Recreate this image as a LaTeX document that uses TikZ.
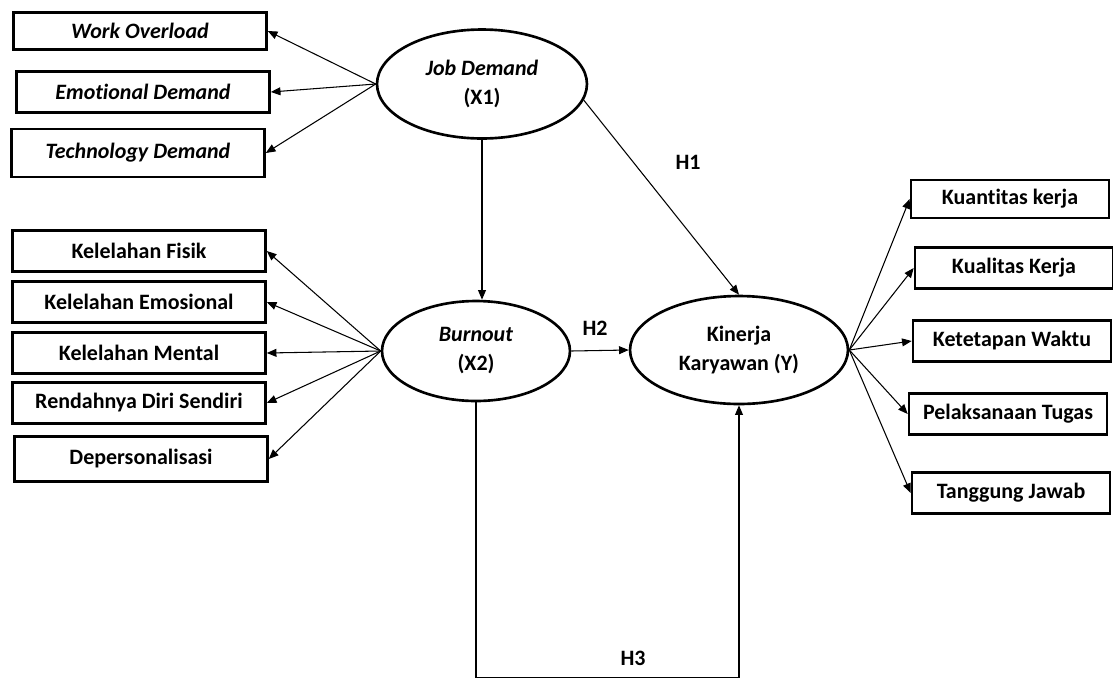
\documentclass[tikz,border=0pt]{standalone}
\usepackage{fontspec}
\setmainfont[Ligatures=NoCommon]{Carlito}
\usetikzlibrary{shapes.geometric,arrows.meta}
\begin{document}
\begin{tikzpicture}[x=0.02cm, y=-0.02cm, font=\fontsize{12.5}{14}\selectfont\bfseries,
	indikator/.style={draw, line width=1.5pt, minimum height=0.82cm, inner sep=2pt},
	kiri/.style={indikator, minimum width=5.06cm},
	kanan/.style={indikator, minimum width=3.96cm},
	variabel/.style={draw, ellipse, line width=1.5pt, align=center, inner sep=0pt, font=\fontsize{12.5}{16.5}\selectfont\bfseries},
	panah/.style={-{Triangle[length=5.5pt, width=4.5pt]}, line width=0.6pt}]
	\useasboundingbox (0,0) rectangle (1113,677);
	% variabel laten
	\node[variabel, minimum width=4.2cm, minimum height=2.18cm] (jd) at (482,84) {\textit{Job Demand}\\(X1)};
	\node[variabel, minimum width=3.76cm, minimum height=2cm] (bo) at (476,351) {\textit{Burnout}\\(X2)};
	\node[variabel, minimum width=4.36cm, minimum height=2.16cm] (ky) at (739,350) {Kinerja\\Karyawan (Y)};
	% indikator X1
	\node[kiri, minimum height=0.74cm] (wo) at (140,31) {\textit{Work Overload}};
	\node[kiri] (ed) at (143,92) {\textit{Emotional Demand}};
	\node[kiri, minimum height=0.96cm] (td) at (138,153) {\textit{Technology Demand}};
	% indikator X2
	\node[kiri] (kf) at (139,251) {Kelelahan Fisik};
	\node[kiri] (ke) at (139,302) {Kelelahan Emosional};
	\node[kiri] (km) at (139,353) {Kelelahan Mental};
	\node[kiri] (rd) at (139,403) {Rendahnya Diri Sendiri};
	\node[kiri, minimum height=0.9cm] (dp) at (141,459) {Depersonalisasi};
	% indikator Y
	\node[kanan, minimum height=0.76cm] (kk) at (1010,199) {Kuantitas kerja};
	\node[kanan] (ql) at (1014,268) {Kualitas Kerja};
	\node[kanan] (kw) at (1012,341) {Ketetapan Waktu};
	\node[kanan] (pt) at (1008,414) {Pelaksanaan Tugas};
	\node[kanan] (tj) at (1011,493) {Tanggung Jawab};
	% panah indikator
	\foreach \b in {wo,ed,td} \draw[panah] (jd.west) -- (\b.east);
	\foreach \b in {kf,ke,km,rd,dp} \draw[panah] (bo.west) -- (\b.east);
	\foreach \b in {kk,ql,kw,pt,tj} \draw[panah] (ky.east) -- (\b.west);
	% hipotesis
	\draw[panah] (jd.south) -- (jd.south |- bo.north);
	\draw[panah] (jd.-9) -- (ky.north);
	\draw[panah] (bo.east) -- (ky.west);
	\draw[panah] (bo.south) -- ++(0,275) coordinate (h3) -| (ky.south);
	\node (h1) at (688,162) {H1};
	\node (h2) at (595,328) {H2};
	\node (h3l) at (633,658) {H3};
\end{tikzpicture}
\end{document}
